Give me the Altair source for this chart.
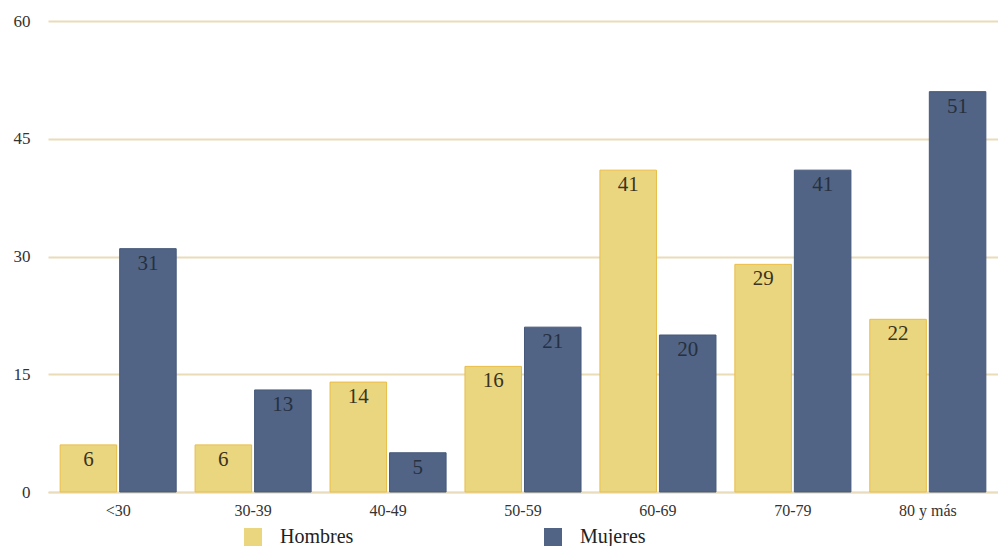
import altair as alt
import pandas as pd

categories = ["<30", "30-39", "40-49", "50-59", "60-69", "70-79", "80 y más"]
hombres = [6, 6, 14, 16, 41, 29, 22]
mujeres = [31, 13, 5, 21, 20, 41, 51]
series = ["Hombres", "Mujeres"]
y_ticks = [0, 15, 30, 45, 60]

rows = []
for c, h, m in zip(categories, hombres, mujeres):
    rows.append({"grupo": c, "sexo": "Hombres", "valor": h})
    rows.append({"grupo": c, "sexo": "Mujeres", "valor": m})
df = pd.DataFrame(rows)

FONT = "Liberation Serif"

x = alt.X("grupo:N", sort=categories, title=None,
          scale=alt.Scale(paddingInner=0.14, paddingOuter=0.09),
          axis=alt.Axis(labelAngle=0, labelFont=FONT, labelFontSize=16,
                        labelColor="#333333", labelPadding=10, ticks=False,
                        domain=True, domainColor="#e8dcbc", domainWidth=1.5,
                        grid=False))
xoff = alt.XOffset("sexo:N", sort=series, scale=alt.Scale(paddingInner=0.05))
y = alt.Y("valor:Q", title=None,
          scale=alt.Scale(domain=[0, 60], nice=False),
          axis=alt.Axis(values=y_ticks, labelFont=FONT, labelFontSize=17,
                        labelColor="#333333", labelPadding=18, ticks=False,
                        domain=False, grid=True, gridColor="#ebdcb8",
                        gridWidth=1.8))
color = alt.Color("sexo:N", sort=series, title=None,
                  scale=alt.Scale(domain=series, range=["#ebd680", "#516485"]),
                  legend=alt.Legend(orient="none", legendX=195, legendY=506,
                                    direction="horizontal", columns=2,
                                    columnPadding=189, symbolType="square",
                                    symbolSize=324, symbolStrokeWidth=0,
                                    labelFont=FONT, labelFontSize=20,
                                    labelColor="#222222", labelOffset=17))
stroke = alt.Stroke("sexo:N", sort=series, legend=None,
                    scale=alt.Scale(domain=series, range=["#e9bd45", "#46597a"]))

bars = alt.Chart(df).mark_bar(strokeWidth=1).encode(
    x=x, xOffset=xoff, y=y, color=color, stroke=stroke
)

labels = alt.Chart(df).mark_text(baseline="top", dy=4, font=FONT, fontSize=21).encode(
    x=alt.X("grupo:N", sort=categories),
    xOffset=alt.XOffset("sexo:N", sort=series),
    y=alt.Y("valor:Q"),
    text=alt.Text("valor:Q"),
    color=alt.Color("sexo:N", sort=series,
                    scale=alt.Scale(domain=series, range=["#3a3420", "#26303f"]),
                    legend=None),
)

chart = alt.layer(bars, labels).resolve_scale(color="independent").properties(
    width=950, height=471,
    background="white",
    autosize=alt.AutoSizeParams(type="none"),
    padding={"left": 48, "top": 21, "right": 0, "bottom": 54},
).configure_view(stroke=None).configure_axisY(domain=False).configure_axisX(
    domainColor="#e8dcbc", domainWidth=1.5, ticks=False
)

chart.save("out.html", embed_options={"renderer": "svg", "actions": False})
